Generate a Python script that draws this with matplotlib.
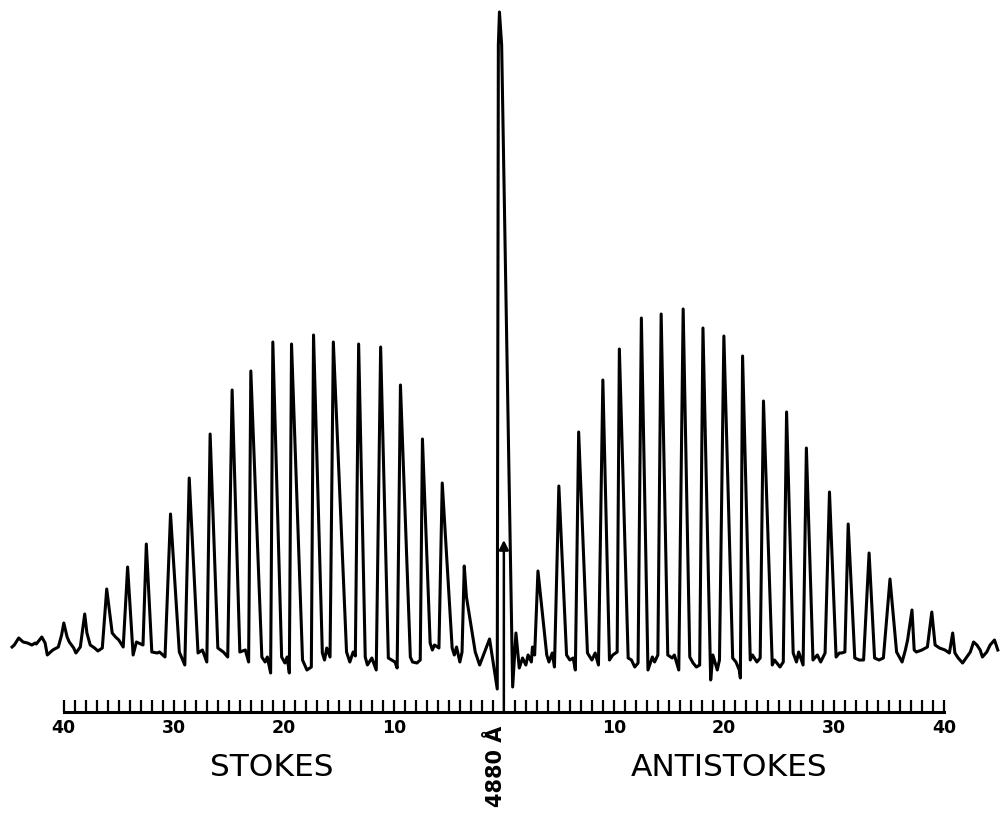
import matplotlib
matplotlib.use("Agg")
import matplotlib.pyplot as plt
from matplotlib.ticker import FixedLocator, FuncFormatter

# Rotational Raman lines: shift in scale units (negative = Stokes side),
# peak intensity in arbitrary recorder units
line_shift = [-40.0, -38.1, -36.1, -34.2, -32.5, -30.3, -28.6, -26.7, -24.7, -23.0,
              -21.0, -19.3, -17.3, -15.5, -13.2, -11.2, -9.4, -7.4, -5.6, -3.6,
              -0.4,
              3.1, 5.0, 6.8, 9.0, 10.5, 12.5, 14.3, 16.3, 18.1, 20.0,
              21.7, 23.6, 25.7, 27.5, 29.6, 31.3, 33.2, 35.1, 37.1, 38.9, 40.8]
line_height = [5.4, 7.2, 12.2, 16.6, 21.2, 27.2, 34.4, 43.2, 52.0, 55.8,
               61.6, 61.2, 63.0, 61.6, 61.2, 60.6, 53.0, 42.2, 33.4, 16.8,
               127.6,
               15.8, 32.8, 43.6, 54.0, 60.2, 66.4, 67.2, 68.2, 64.4, 62.8,
               58.8, 49.8, 47.6, 40.4, 31.6, 25.2, 19.4, 14.2, 8.0, 7.6, 3.4]

# recorder trace (shift, intensity) before each line, and the tail after the last
gaps = [
    [(-44.7, 0.6), (-44.5, 1.0), (-44.1, 2.4), (-43.7, 1.6), (-43.3, 1.4), (-42.9, 1.0),
     (-42.6, 1.4), (-42.5, 1.2), (-42.0, 2.6), (-41.7, 1.4), (-41.5, -1.0), (-41.0, 0.0),
     (-40.5, 0.6), (-40.2, 3.0)],
    [(-39.7, 2.6), (-39.5, 1.6), (-39.1, 0.4), (-38.9, -0.6), (-38.5, 0.6)],
    [(-37.9, 3.4), (-37.6, 1.0), (-37.2, 0.4), (-36.9, -0.2), (-36.5, 0.4)],
    [(-35.6, 3.4), (-35.3, 2.6), (-35.0, 2.0), (-34.6, 0.6)],
    [(-33.7, -1.0), (-33.4, 1.6), (-32.8, 1.0)],
    [(-32.0, -0.4), (-31.5, -0.6), (-31.3, -0.4), (-30.8, -1.4)],
    [(-29.5, -0.4), (-29.0, -3.0)],
    [(-27.8, -0.6), (-27.4, 0.0), (-27.0, -2.4)],
    [(-26.0, 0.4), (-25.5, -0.4), (-25.1, -1.4)],
    [(-24.0, -0.4), (-23.5, 0.0), (-23.2, -2.4)],
    [(-22.0, -1.4), (-21.7, -2.4), (-21.5, -1.4), (-21.2, -4.6)],
    [(-20.2, -1.4), (-19.9, -2.6), (-19.7, -1.4), (-19.5, -4.6)],
    [(-18.3, -2.0), (-17.9, -4.0), (-17.5, -3.4)],
    [(-16.5, -0.6), (-16.3, -2.0), (-16.1, 0.4), (-15.8, -1.4)],
    [(-14.3, -0.4), (-14.0, -2.4), (-13.7, -0.4), (-13.5, -1.2)],
    [(-12.6, -1.4), (-12.4, -3.0), (-12.0, -1.6), (-11.6, -4.0)],
    [(-10.5, -1.6), (-10.2, -2.0), (-9.9, -2.4), (-9.7, -3.6)],
    [(-8.5, -1.4), (-8.3, -2.4), (-7.9, -2.6), (-7.6, -2.0)],
    [(-6.7, 1.4), (-6.5, 0.0), (-6.3, 1.0), (-5.9, 0.4)],
    [(-4.7, 0.4), (-4.5, -1.0), (-4.3, 0.6), (-4.0, -2.4), (-3.8, -0.4)],
    [(-3.4, 10.6), (-2.6, -0.4), (-2.2, -3.0), (-1.3, 2.2), (-0.6, -7.8), (-0.5, 121.0)],
    [(-0.2, 121.0), (0.8, -7.4), (1.1, 3.4), (1.4, -3.6), (1.7, -1.6), (2.0, -3.0),
     (2.2, -1.0), (2.5, -2.4), (2.6, 0.6), (2.8, -1.0)],
    [(3.9, -1.0), (4.1, -2.4), (4.4, -0.6), (4.6, -3.4)],
    [(5.7, -1.0), (6.0, -2.0), (6.3, -1.6), (6.5, -4.0)],
    [(7.6, -0.6), (8.0, -2.0), (8.3, -0.6), (8.6, -3.0)],
    [(9.6, -2.0), (9.9, -1.0), (10.3, -0.4)],
    [(11.3, -1.6), (11.6, -2.0), (11.9, -3.4), (12.2, -2.6)],
    [(13.1, -4.0), (13.5, -1.4), (13.7, -2.4), (14.0, -1.0)],
    [(14.9, -1.0), (15.3, -1.6), (15.5, -1.0), (15.9, -4.0)],
    [(16.9, -1.4), (17.2, -2.6), (17.5, -3.4), (17.8, -3.0)],
    [(18.8, -6.0), (19.0, -1.0), (19.4, -4.0), (19.6, -2.0)],
    [(20.8, -1.6), (21.1, -2.4), (21.4, -4.0), (21.5, -5.6)],
    [(22.4, -2.0), (22.6, -1.0), (23.0, -2.4), (23.3, -1.6)],
    [(24.4, -3.0), (24.6, -2.0), (25.1, -3.4), (25.4, -2.4)],
    [(26.3, -0.6), (26.6, -2.4), (26.8, -0.4), (27.2, -3.0)],
    [(28.1, -2.0), (28.5, -1.0), (28.8, -2.4), (29.2, -0.6)],
    [(30.2, -1.4), (30.5, -0.6), (30.7, -0.6), (31.0, -0.4)],
    [(31.9, -1.6), (32.3, -2.0), (32.7, -2.0)],
    [(33.7, -1.6), (34.1, -2.0), (34.5, -1.6)],
    [(35.7, -0.4), (36.2, -2.4), (36.5, 0.0), (36.7, 2.0)],
    [(37.3, 0.0), (37.5, -0.4), (38.0, 0.0), (38.5, 0.6)],
    [(39.2, 1.0), (39.6, 0.4), (40.1, 0.0), (40.5, -0.6)],
    [(41.0, -0.6), (41.3, -1.6), (41.7, -2.6), (42.4, -0.4), (42.7, 1.6), (43.0, 1.0),
     (43.3, 0.0), (43.5, -1.4), (43.9, -0.4), (44.2, 1.0), (44.6, 2.0), (44.9, 0.0)],
]

scale_ticks = [i for i in range(-40, 41) if i != 0]
scale_labels = [-40, -30, -20, -10, 10, 20, 30, 40]
laser_label = "4880 Å"

xs, ys = [], []
for k, gap in enumerate(gaps):
    for s, v in gap:
        xs.append(s)
        ys.append(v)
    if k < len(line_shift):
        xs.append(line_shift[k])
        ys.append(line_height[k])

fig = plt.figure(figsize=(10, 8.14), dpi=100)
ax = fig.add_axes([0, 0, 1, 1])
ax.plot(xs, ys, color="black", lw=2.2, solid_joinstyle="round")

ax.set_xlim(-45.8, 45.1)
ax.set_ylim(-32.8, 130)
for side in ["top", "right", "left"]:
    ax.spines[side].set_visible(False)
ax.spines["bottom"].set_position(("data", -12.4))
ax.spines["bottom"].set_bounds(-40, 40)
ax.spines["bottom"].set_linewidth(2.2)
ax.set_yticks([])

ax.xaxis.set_major_locator(FixedLocator(scale_labels))
ax.xaxis.set_minor_locator(FixedLocator(scale_ticks))
ax.xaxis.set_major_formatter(FuncFormatter(lambda v, p: f"{abs(v):.0f}"))
ax.tick_params(axis="x", which="both", direction="in", length=8.5, width=1.6, pad=5)
ax.tick_params(axis="x", which="major", labelsize=12.5)
for lab in ax.get_xticklabels():
    lab.set_fontweight("bold")

# laser line marker
ax.annotate("", xy=(0, 22), xytext=(0, -12.4),
            arrowprops=dict(arrowstyle="-|>", color="black", lw=1.8,
                            mutation_scale=14, shrinkA=0, shrinkB=0))

ax.text(-21.1, -23.6, "STOKES", ha="center", va="center", fontsize=22.5)
ax.text(20.5, -23.6, "ANTISTOKES", ha="center", va="center", fontsize=22.5)
ax.text(-0.7, -23.2, laser_label, ha="center", va="center", rotation=90,
        fontsize=15, fontweight="bold")

fig.savefig("out.png", dpi=100)
